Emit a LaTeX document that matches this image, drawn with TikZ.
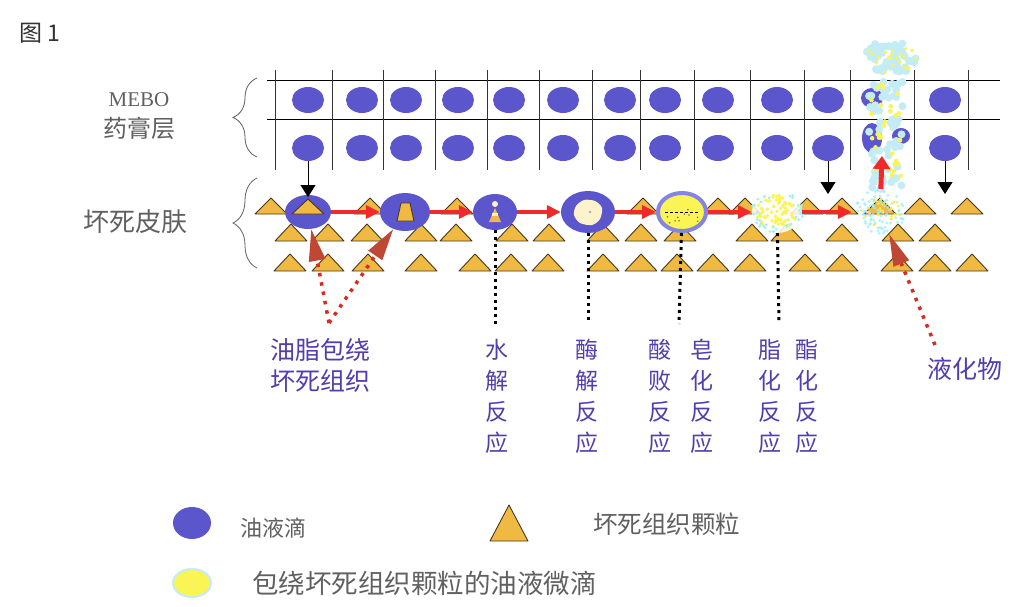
\documentclass[tikz,border=0pt]{standalone}
\usepackage{fontspec}
\setmainfont{Liberation Serif}
\newfontfamily\cjk{Noto Sans CJK SC}
\usetikzlibrary{shapes.geometric,arrows.meta,decorations.pathreplacing}

\definecolor{oilblue}{RGB}{92,86,204}
\definecolor{ringblue}{RGB}{132,132,226}
\definecolor{tissue}{RGB}{240,186,66}
\definecolor{tissueline}{RGB}{70,56,30}
\definecolor{arrowred}{RGB}{240,42,42}
\definecolor{dotred}{RGB}{214,44,34}
\definecolor{pointred}{RGB}{190,72,52}
\definecolor{labelblue}{RGB}{82,62,172}
\definecolor{labelgray}{RGB}{96,96,96}
\definecolor{dropyellow}{RGB}{250,244,84}
\definecolor{dropcyan}{RGB}{196,236,246}
\definecolor{cream}{RGB}{252,242,204}

\newcommand\rxnfont{\cjk\fontsize{23pt}{31pt}\selectfont}
\newcommand\keyfont{\cjk\fontsize{24pt}{26pt}\selectfont}

\tikzset{
  drop/.style={ellipse, fill=oilblue, minimum width=32pt, minimum height=26pt, inner sep=0pt},
  tri/.style={fill=tissue, draw=tissueline, line width=0.9pt, line join=round},
  flow/.style={arrowred, line width=3.5pt, -{Triangle[length=14pt,width=13pt]}},
  lift/.style={arrowred, line width=5pt, -{Triangle[length=13pt,width=17pt]}},
  drip/.style={black, line width=0.9pt, -{Triangle[length=12pt,width=15pt]}},
  hint/.style={black, line width=3pt, dash pattern=on 3pt off 4pt},
  point/.style={dotred, line width=3.5pt, dash pattern=on 3.5pt off 6pt, -{Triangle[length=32pt,width=16pt,color=pointred]}},
  rxn/.style={text=labelblue, font=\rxnfont, align=center, anchor=north, inner sep=0pt},
  side/.style={text=labelgray, font=\keyfont, inner sep=0pt},
  brace/.style={labelgray, line width=0.8pt, decorate, decoration={brace, amplitude=24pt}},
}

\begin{document}
\begin{tikzpicture}[x=1pt, y=-1pt]
\pgfmathsetseed{11}
\fill[white] (0,0) rectangle (1030,607);
\useasboundingbox (0,0) rectangle (1030,607);

\node[text=black!80, font=\cjk\fontsize{23pt}{25pt}\selectfont] (fig) at (40,33) {图 1};
\node[text=labelgray, font=\fontsize{21pt}{22pt}\selectfont] (mebo) at (139,100) {MEBO};
\node[side] (layer) at (139,128) {药膏层};
\node[side, font=\cjk\fontsize{26pt}{28pt}\selectfont] (skin) at (135,222) {坏死皮肤};
\draw[brace] (257,157) -- (257,78);
\draw[brace] (257,268) -- (257,178);

% ointment layer grid
\draw[black, line width=0.9pt] (267,80) -- (1000,80);
\draw[black, line width=0.9pt] (267,119) -- (1000,119);
\foreach \x in {275,332,383,435,487,539,592,640,694,750,804,850,914,968}
  \draw[black!80, line width=0.9pt] (\x,70) -- (\x,170);

\foreach \x [count=\i] in {308,362,406,458,509,563,620,665,718,777,828,945} {
  \node[drop] (u\i) at (\x,100) {};
  \node[drop] (l\i) at (\x,148) {};
}

% broken drops and rising liquid
\fill[oilblue] (872,98) ellipse (11pt and 10pt);
\fill[oilblue] (872,138) ellipse (10pt and 15pt);
\fill[oilblue] (901,136) ellipse (9pt and 8pt);
\foreach \i in {1,...,55} {
  \pgfmathsetmacro\a{360*rnd}
  \pgfmathsetmacro\r{sqrt(rnd)}
  \fill[dropcyan] ({890+28*\r*cos(\a)},{58+17*\r*sin(\a)}) circle (4pt);
}
\foreach \i in {1,...,60}
  \fill[dropcyan] ({886+17*rand},{135+55*rand}) circle (4pt);
\foreach \i in {1,...,22} {
  \pgfmathsetmacro\a{360*rnd}
  \pgfmathsetmacro\r{sqrt(rnd)}
  \fill[dropyellow] ({890+26*\r*cos(\a)},{58+15*\r*sin(\a)}) circle (1.8pt);
}
\foreach \i in {1,...,30}
  \fill[dropyellow] ({886+15*rand},{135+53*rand}) circle (2.3pt);

% necrotic tissue particles
\foreach \x in {271,370,457,643,718,745,807,842,880,920,967}
  \filldraw[tri] (\x-16,214) -- (\x,198) -- (\x+16,214) -- cycle;
\foreach \x in {291,328,367,421,456,512,549,603,641,680,752,787,842,898,935}
  \filldraw[tri] (\x-16,241) -- (\x,224) -- (\x+16,241) -- cycle;
\foreach \x in {290,328,368,421,475,511,548,603,641,677,713,750,805,842,897,935,972}
  \filldraw[tri] (\x-16,271) -- (\x,254) -- (\x+16,271) -- cycle;

% stages of breakdown
\node[drop, minimum width=46pt, minimum height=34pt] (s1) at (308,212) {};
\node[drop, minimum width=50pt, minimum height=38pt] (s2) at (405,212) {};
\node[drop, minimum width=44pt, minimum height=36pt] (s3) at (495,212) {};
\node[drop, minimum width=54pt, minimum height=42pt] (s4) at (588,212) {};
\node[ellipse, fill=dropyellow, draw=ringblue, line width=4pt, minimum width=48pt, minimum height=38pt, inner sep=0pt] (s5) at (682,212) {};
\node[ellipse, fill=white, fill opacity=0.85, minimum width=50pt, minimum height=42pt, inner sep=0pt] (s6) at (777,212) {};
\node[ellipse, minimum width=56pt, minimum height=46pt, inner sep=0pt] (s7) at (880,212) {};

\filldraw[tri] (292,214) -- (308,199) -- (324,214) -- cycle;
\filldraw[tri] (397,221) -- (401,203) -- (410,203) -- (414,221) -- cycle;
\fill[cream] (495,204) circle (3pt);
\fill[tissue] (489,222) -- (495,208) -- (501,222) -- cycle;
\fill[cream] (492,213) rectangle (498,216);
\fill[cream] plot[smooth cycle] coordinates {(576,206) (584,200) (595,201) (602,208) (600,219) (592,225) (580,223) (574,215)};
\fill[oilblue!70] (590,212) circle (1.2pt);
\draw[black, line width=0.8pt, dash pattern=on 3pt off 2pt] (665,212) -- (699,212);
\foreach \i in {1,...,10}
  \fill[tissueline!70] ({682+16*rand},{212+11*rand}) circle (0.9pt);
\foreach \i in {1,...,70} {
  \pgfmathsetmacro\a{360*rnd}
  \pgfmathsetmacro\r{sqrt(rnd)}
  \fill[dropyellow] ({777+21*\r*cos(\a)},{212+17*\r*sin(\a)}) circle (1.9pt);
}
\foreach \i in {1,...,40} {
  \pgfmathsetmacro\a{360*rnd}
  \pgfmathsetmacro\r{0.8+0.3*rnd}
  \fill[dropcyan!80!cyan] ({777+24*\r*cos(\a)},{212+19*\r*sin(\a)}) circle (1.5pt);
}
\foreach \i in {1,...,90} {
  \pgfmathsetmacro\a{360*rnd}
  \pgfmathsetmacro\r{sqrt(rnd)}
  \fill[dropcyan!80!cyan, opacity=0.8] ({880+27*\r*cos(\a)},{212+22*\r*sin(\a)}) circle (1.6pt);
}
\foreach \i in {1,...,30} {
  \pgfmathsetmacro\a{360*rnd}
  \pgfmathsetmacro\r{sqrt(rnd)}
  \fill[dropyellow!80!tissue] ({880+22*\r*cos(\a)},{212+16*\r*sin(\a)}) circle (1.4pt);
}

\draw[flow] (s1) -- (s2);
\draw[flow] (s2) -- (s3);
\draw[flow] (s3) -- (s4);
\draw[flow] (s4) -- (s5);
\draw[flow] (s5) -- (s6);
\draw[flow] (s6) -- (s7);
\coordinate (rise) at (882,156);
\draw[lift] (s7) -- (rise);

\coordinate (d1) at (308,197);
\coordinate (d11) at (828,194);
\coordinate (d12) at (945,194);
\draw[drip] (l1) -- (d1);
\draw[drip] (l11) -- (d11);
\draw[drip] (l12) -- (d12);

% reaction labels
\node[rxn, font=\cjk\fontsize{25pt}{31pt}\selectfont] (t1) at (320,338) {油脂包绕\\坏死组织};
\node[rxn] (t3) at (497,339) {水\\解\\反\\应};
\node[rxn] (t4) at (587,339) {酶\\解\\反\\应};
\node[rxn] (t5a) at (660,339) {酸\\败\\反\\应};
\node[rxn] (t5b) at (702,339) {皂\\化\\反\\应};
\node[rxn] (t6a) at (770,339) {脂\\化\\反\\应};
\node[rxn] (t6b) at (807,339) {酯\\化\\反\\应};
\node[rxn, font=\cjk\fontsize{25pt}{27pt}\selectfont] (t7) at (965,357) {液化物};

\coordinate (h3) at (495,324);
\coordinate (h4) at (588,324);
\coordinate (h5) at (679,324);
\coordinate (h6) at (779,324);
\draw[hint] (s3) -- (h3);
\draw[hint] (s4) -- (h4);
\draw[hint] (s5) -- (h5);
\draw[hint] (s6) -- (h6);

\coordinate (p1) at (329,323);
\coordinate (p7) at (935,345);
\draw[point] (p1) -- (s1);
\draw[point] (p1) -- (s2);
\draw[point] (p7) -- (s7);

% legend
\node[drop, minimum width=38pt, minimum height=32pt] (k1) at (192,523) {};
\node[side, font=\cjk\fontsize{22pt}{24pt}\selectfont, anchor=west] (k1t) at (240,528) {油液滴};
\filldraw[tri] (490,541) -- (509,505) -- (528,541) -- cycle;
\node[side, font=\cjk\fontsize{24.5pt}{26pt}\selectfont, anchor=west] (k2t) at (593,524) {坏死组织颗粒};
\node[ellipse, fill=dropyellow, draw=dropcyan, line width=2pt, minimum width=38pt, minimum height=28pt, inner sep=0pt] (k3) at (192,583) {};
\node[side, font=\cjk\fontsize{26.5pt}{28pt}\selectfont, anchor=west] (k3t) at (252,583) {包绕坏死组织颗粒的油液微滴};
\end{tikzpicture}
\end{document}
